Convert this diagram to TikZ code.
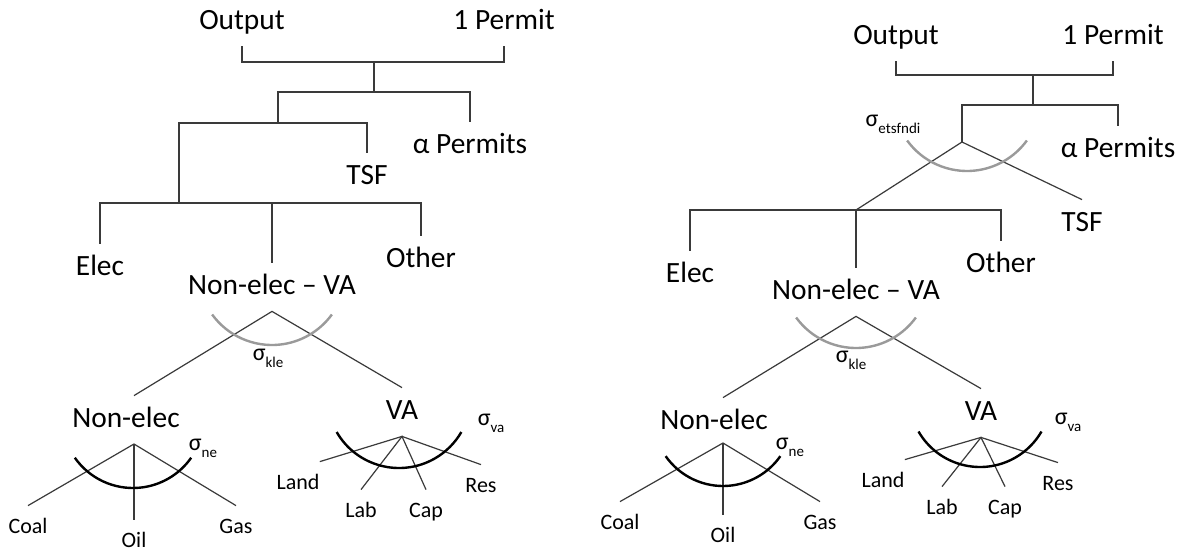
\documentclass[tikz,border=0pt]{standalone}
\usepackage{fontspec}
\setmainfont{Carlito}
\usepackage{tikz}
\usetikzlibrary{positioning, calc}
\definecolor{linegray}{HTML}{3A3A3A}
\definecolor{arcgray}{HTML}{9A9A9A}
\newcommand{\sigsub}[1]{σ\raisebox{-0.3em}{\fontsize{7.5pt}{9pt}\selectfont #1}}

\begin{document}
\begin{tikzpicture}[x=0.5pt, y=-0.5pt,
  biglbl/.style={font=\fontsize{14.7pt}{17pt}\selectfont, inner sep=0pt, text height=10pt, text depth=3pt, minimum height=24pt},
  smalllbl/.style={font=\fontsize{11pt}{13pt}\selectfont, inner sep=0pt, text height=8pt, text depth=2pt, minimum height=21pt},
  siglbl/.style={font=\fontsize{12pt}{14pt}\selectfont, inner sep=0pt},
  tree/.style={draw=linegray, line width=0.6pt},
  softarc/.style={draw=arcgray, line width=1.2pt},
  hardarc/.style={draw=black, line width=1.2pt}]
\path[use as bounding box, fill=white] (0,0) rectangle (1177,552);

% left tree
\node[biglbl] (outL) at (242,22) {Output};
\node[biglbl] (permL) at (504,22) {1 Permit};
\node[biglbl] (apermL) at (470,146) {α Permits};
\node[biglbl] (tsfL) at (367,177) {TSF};
\node[biglbl] (elecL) at (100,268) {Elec};
\node[biglbl] (nvaL) at (272,287) {Non-elec – VA};
\node[biglbl] (otherL) at (421,260) {Other};
\node[biglbl] (nonelL) at (126,420) {Non-elec};
\node[biglbl] (vaL) at (402,412) {VA};
\node[smalllbl] (coalL) at (28,527) {Coal};
\node[smalllbl] (oilL) at (134,541) {Oil};
\node[smalllbl] (gasL) at (236,527) {Gas};
\node[smalllbl] (landL) at (298,483) {Land};
\node[smalllbl] (labL) at (361,511) {Lab};
\node[smalllbl] (capL) at (426,511) {Cap};
\node[smalllbl] (resL) at (481,486) {Res};
\node[siglbl] (sklL) at (268,358) {\sigsub{kle}};
\node[siglbl] (sneL) at (203,448) {\sigsub{ne}};
\node[siglbl] (svaL) at (491,423) {\sigsub{va}};

\coordinate (jL1) at (374,62);
\coordinate (jL2) at (374,92);
\coordinate (jL3) at (278,123);
\coordinate (jL4) at (179,203);
\coordinate (neL) at (134,444);
\coordinate (kleCL) at (272,271);
\coordinate (neCL) at (133,417);
\coordinate (vaCL) at (399,396);

\draw[tree] (outL.south) |- (jL1) -| (permL.south);
\draw[tree] (jL1) -- (jL2);
\draw[tree] (jL3) |- (jL2) -| (apermL.north);
\draw[tree] (jL4) |- (jL3) -| (tsfL.north);
\draw[tree] (elecL.north) |- (jL4) -| (otherL.north);
\draw[tree] (nvaL.north |- jL4) -- (nvaL.north);

\draw[tree] (neL |- nonelL.north) -- (nvaL.south) -- (vaL.north);
\draw[tree] (coalL.north) -- (neL) -- (gasL.north);
\draw[tree] (neL) -- (oilL.north);
\draw[tree] (landL.north east) -- (vaL.south) -- (resL.north);
\draw[tree] (labL.north) -- (vaL.south) -- (capL.north);

\draw[softarc] ([shift={(144:74)}]kleCL) arc[start angle=144, end angle=36, radius=74];
\draw[hardarc] ([shift={(145:71)}]neCL) arc[start angle=145, end angle=35, radius=71];
\draw[hardarc] ([shift={(150:72)}]vaCL) arc[start angle=150, end angle=30, radius=72];

% right tree
\node[biglbl] (outR) at (896,37) {Output};
\node[biglbl] (permR) at (1113,37) {1 Permit};
\node[biglbl] (apermR) at (1118,150) {α Permits};
\node[biglbl] (tsfR) at (1082,224) {TSF};
\node[biglbl] (elecR) at (690,275) {Elec};
\node[biglbl] (nvaR) at (856,292) {Non-elec – VA};
\node[biglbl] (otherR) at (1001,265) {Other};
\node[biglbl] (nonelR) at (714,422) {Non-elec};
\node[biglbl] (vaR) at (981,413) {VA};
\node[smalllbl] (coalR) at (620,523) {Coal};
\node[smalllbl] (oilR) at (723,536) {Oil};
\node[smalllbl] (gasR) at (820,523) {Gas};
\node[smalllbl] (landR) at (883,481) {Land};
\node[smalllbl] (labR) at (942,508) {Lab};
\node[smalllbl] (capR) at (1005,508) {Cap};
\node[smalllbl] (resR) at (1058,484) {Res};
\node[siglbl] (sefR) at (893,124) {\sigsub{etsfndi}};
\node[siglbl] (sklR) at (851,360) {\sigsub{kle}};
\node[siglbl] (sneR) at (790,447) {\sigsub{ne}};
\node[siglbl] (svaR) at (1068,422) {\sigsub{va}};

\coordinate (jR1) at (1033,75);
\coordinate (jR2) at (1033,105);
\coordinate (jR3) at (962,142);
\coordinate (jR4) at (856,210);
\coordinate (neR) at (723,443);
\coordinate (efCR) at (967,97);
\coordinate (kleCR) at (856,274);
\coordinate (neCR) at (723,416);
\coordinate (vaCR) at (980,396);

\draw[tree] (outR.south) |- (jR1) -| (permR.south);
\draw[tree] (jR1) -- (jR2);
\draw[tree] (jR3) |- (jR2) -| (apermR.north);
\draw[tree] (jR4) -- (jR3) -- (tsfR.north);
\draw[tree] (elecR.north) |- (jR4) -| (otherR.north);
\draw[tree] (jR4) -- (nvaR.north);

\draw[tree] (neR |- nonelR.north) -- (nvaR.south) -- (vaR.north);
\draw[tree] (coalR.north) -- (neR) -- (gasR.north);
\draw[tree] (neR) -- (oilR.north);
\draw[tree] (landR.north east) -- (vaR.south) -- (resR.north);
\draw[tree] (labR.north) -- (vaR.south) -- (capR.north);

\draw[softarc] ([shift={(144:74)}]efCR) arc[start angle=144, end angle=36, radius=74];
\draw[softarc] ([shift={(144:74)}]kleCR) arc[start angle=144, end angle=36, radius=74];
\draw[hardarc] ([shift={(145:70)}]neCR) arc[start angle=145, end angle=35, radius=70];
\draw[hardarc] ([shift={(150:71)}]vaCR) arc[start angle=150, end angle=30, radius=71];
\end{tikzpicture}
\end{document}
